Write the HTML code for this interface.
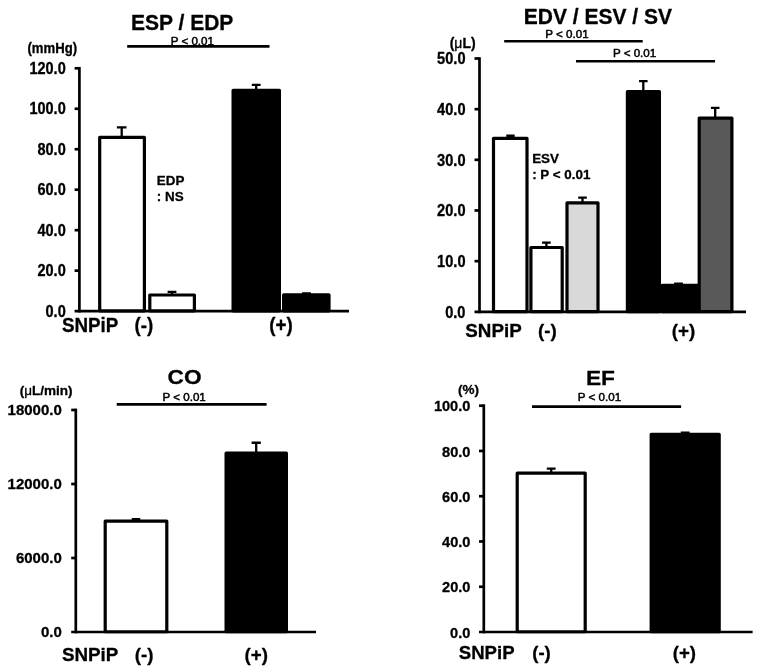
<!DOCTYPE html>
<html lang="en">
<head>
<meta charset="utf-8">
<title>Hemodynamic parameters with and without SNPiP</title>
<style>
html,body{margin:0;padding:0;background:#fff;}
body{width:759px;height:668px;overflow:hidden;}
svg{display:block;filter:blur(0.55px);}
text{font-family:"Liberation Sans",Arial,Helvetica,sans-serif;fill:#000;stroke:#000;stroke-width:0.3px;stroke-linejoin:round;}
.b{font-weight:700;}
.r{font-weight:400;stroke-width:0.5px;}
.mu{font-weight:400;}
</style>
</head>
<body>
<svg width="759" height="668" viewBox="0 0 759 668">
<rect x="0" y="0" width="759" height="668" fill="#fff"/>
<g id="panel-esp-edp">
<path d="M79.40 66.95V312.45" stroke="#000" stroke-width="2.7" stroke-linejoin="round" fill="none"/>
<path d="M74.60 311.10H349.00" stroke="#000" stroke-width="2.7" fill="none"/>
<path d="M74.60 68.30H79.40" stroke="#000" stroke-width="2.7" fill="none"/>
<text transform="translate(65.70 74.01) scale(1 1.08)" font-size="14.5" class="b" text-anchor="end">120.0</text>
<path d="M74.60 108.77H79.40" stroke="#000" stroke-width="2.7" fill="none"/>
<text transform="translate(65.70 114.47) scale(1 1.08)" font-size="14.5" class="b" text-anchor="end">100.0</text>
<path d="M74.60 149.23H79.40" stroke="#000" stroke-width="2.7" fill="none"/>
<text transform="translate(65.70 154.94) scale(1 1.08)" font-size="14.5" class="b" text-anchor="end">80.0</text>
<path d="M74.60 189.70H79.40" stroke="#000" stroke-width="2.7" fill="none"/>
<text transform="translate(65.70 195.41) scale(1 1.08)" font-size="14.5" class="b" text-anchor="end">60.0</text>
<path d="M74.60 230.17H79.40" stroke="#000" stroke-width="2.7" fill="none"/>
<text transform="translate(65.70 235.87) scale(1 1.08)" font-size="14.5" class="b" text-anchor="end">40.0</text>
<path d="M74.60 270.63H79.40" stroke="#000" stroke-width="2.7" fill="none"/>
<text transform="translate(65.70 276.34) scale(1 1.08)" font-size="14.5" class="b" text-anchor="end">20.0</text>
<text transform="translate(65.70 316.81) scale(1 1.08)" font-size="14.5" class="b" text-anchor="end">0.0</text>
<rect x="99.70" y="137.30" width="44.70" height="173.55" fill="#fff" stroke="#000" stroke-width="3.2" stroke-linejoin="round"/>
<path d="M116.90 127.35H126.50M121.70 127.35V136.70" fill="none" stroke="#000" stroke-width="2.3"/>
<rect x="149.80" y="295.00" width="44.60" height="15.85" fill="#fff" stroke="#000" stroke-width="3.2" stroke-linejoin="round"/>
<path d="M167.60 291.95H176.40M172.00 291.95V294.40" fill="none" stroke="#000" stroke-width="2.3"/>
<rect x="233.10" y="90.30" width="46.30" height="220.55" fill="#000" stroke="#000" stroke-width="3.2" stroke-linejoin="round"/>
<path d="M251.80 84.95H260.60M256.20 84.95V89.70" fill="none" stroke="#000" stroke-width="2.3"/>
<rect x="283.60" y="294.90" width="45.40" height="15.95" fill="#000" stroke="#000" stroke-width="3.2" stroke-linejoin="round"/>
<path d="M302.10 293.35H310.90M306.50 293.35V294.30" fill="none" stroke="#000" stroke-width="2.3"/>
<text transform="translate(131.00 30.20) scale(1 1.065)" font-size="21.0" class="b">ESP / EDP</text>
<text x="170.70" y="45.00" font-size="11.6" class="r">P &lt; 0.01</text>
<path d="M127.20 46.40H269.50" stroke="#000" stroke-width="2.6" fill="none"/>
<text transform="translate(27.50 53.30) scale(1 1.08)" font-size="13.15" class="b">(mmHg)</text>
<text x="156.80" y="184.80" font-size="13.4" class="b">EDP</text>
<text x="156.80" y="201.40" font-size="13.4" class="b">: NS</text>
<text transform="translate(61.90 332.00) scale(1 1.04)" font-size="18.8" class="b">SNPiP</text>
<text transform="translate(134.50 332.00) scale(1 1.04)" font-size="18.8" class="b">(-)</text>
<text transform="translate(269.20 332.00) scale(1 1.04)" font-size="18.8" class="b">(+)</text>
</g>
<g id="panel-edv-esv-sv">
<path d="M479.50 57.15V313.15" stroke="#000" stroke-width="2.7" stroke-linejoin="round" fill="none"/>
<path d="M474.50 311.80H746.00" stroke="#000" stroke-width="2.7" fill="none"/>
<path d="M474.50 58.50H479.50" stroke="#000" stroke-width="2.7" fill="none"/>
<text transform="translate(465.50 64.30) scale(1 1.09)" font-size="14.6" class="b" text-anchor="end">50.0</text>
<path d="M474.50 109.16H479.50" stroke="#000" stroke-width="2.7" fill="none"/>
<text transform="translate(465.50 114.96) scale(1 1.09)" font-size="14.6" class="b" text-anchor="end">40.0</text>
<path d="M474.50 159.82H479.50" stroke="#000" stroke-width="2.7" fill="none"/>
<text transform="translate(465.50 165.62) scale(1 1.09)" font-size="14.6" class="b" text-anchor="end">30.0</text>
<path d="M474.50 210.48H479.50" stroke="#000" stroke-width="2.7" fill="none"/>
<text transform="translate(465.50 216.28) scale(1 1.09)" font-size="14.6" class="b" text-anchor="end">20.0</text>
<path d="M474.50 261.14H479.50" stroke="#000" stroke-width="2.7" fill="none"/>
<text transform="translate(465.50 266.94) scale(1 1.09)" font-size="14.6" class="b" text-anchor="end">10.0</text>
<text transform="translate(465.50 317.60) scale(1 1.09)" font-size="14.6" class="b" text-anchor="end">0.0</text>
<rect x="493.50" y="138.30" width="33.50" height="173.25" fill="#fff" stroke="#000" stroke-width="3.2" stroke-linejoin="round"/>
<path d="M506.30 135.75H514.70M510.50 135.75V137.70" fill="none" stroke="#000" stroke-width="2.3"/>
<rect x="530.90" y="247.50" width="31.30" height="64.05" fill="#fff" stroke="#000" stroke-width="3.2" stroke-linejoin="round"/>
<path d="M542.10 242.55H550.70M546.40 242.55V246.90" fill="none" stroke="#000" stroke-width="2.3"/>
<rect x="567.00" y="202.90" width="31.00" height="108.65" fill="#d9d9d9" stroke="#000" stroke-width="3.2" stroke-linejoin="round"/>
<path d="M578.20 197.65H586.80M582.50 197.65V202.30" fill="none" stroke="#000" stroke-width="2.3"/>
<rect x="627.40" y="91.70" width="32.00" height="219.85" fill="#000" stroke="#000" stroke-width="3.2" stroke-linejoin="round"/>
<path d="M639.00 81.15H647.60M643.30 81.15V91.10" fill="none" stroke="#000" stroke-width="2.3"/>
<rect x="662.10" y="285.40" width="36.30" height="26.15" fill="#000" stroke="#000" stroke-width="3.2" stroke-linejoin="round"/>
<path d="M674.10 283.75H682.90M678.50 283.75V284.80" fill="none" stroke="#000" stroke-width="2.3"/>
<rect x="699.20" y="118.10" width="32.70" height="193.45" fill="#595959" stroke="#000" stroke-width="3.2" stroke-linejoin="round"/>
<path d="M710.90 107.85H719.50M715.20 107.85V117.50" fill="none" stroke="#000" stroke-width="2.3"/>
<text transform="translate(523.80 24.20) scale(1 1.065)" font-size="21.0" class="b">EDV / ESV / SV</text>
<text x="545.30" y="37.70" font-size="11.6" class="r">P &lt; 0.01</text>
<path d="M504.20 41.30H642.70" stroke="#000" stroke-width="2.6" fill="none"/>
<text x="612.90" y="57.30" font-size="11.6" class="r">P &lt; 0.01</text>
<path d="M576.00 61.30H715.00" stroke="#000" stroke-width="2.6" fill="none"/>
<text x="449.70" y="48.20" font-size="14" class="b">(<tspan class="mu">&#956;</tspan>L)</text>
<text x="532.20" y="162.70" font-size="13.4" class="b">ESV</text>
<text x="532.20" y="179.30" font-size="13.4" class="b">: P &lt; 0.01</text>
<text transform="translate(465.30 337.20) scale(1 0.98)" font-size="18.8" class="b">SNPiP</text>
<text transform="translate(538.00 337.20) scale(1 0.98)" font-size="18.8" class="b">(-)</text>
<text transform="translate(671.70 337.20) scale(1 0.98)" font-size="18.8" class="b">(+)</text>
</g>
<g id="panel-co">
<path d="M75.80 408.65V633.35" stroke="#000" stroke-width="2.7" stroke-linejoin="round" fill="none"/>
<path d="M71.20 632.00H316.00" stroke="#000" stroke-width="2.7" fill="none"/>
<path d="M71.20 410.00H75.80" stroke="#000" stroke-width="2.7" fill="none"/>
<text transform="translate(61.80 415.36) scale(1 0.98)" font-size="15.0" class="b" text-anchor="end">18000.0</text>
<path d="M71.20 484.00H75.80" stroke="#000" stroke-width="2.7" fill="none"/>
<text transform="translate(61.80 489.36) scale(1 0.98)" font-size="15.0" class="b" text-anchor="end">12000.0</text>
<path d="M71.20 558.00H75.80" stroke="#000" stroke-width="2.7" fill="none"/>
<text transform="translate(61.80 563.36) scale(1 0.98)" font-size="15.0" class="b" text-anchor="end">6000.0</text>
<text transform="translate(61.80 637.36) scale(1 0.98)" font-size="15.0" class="b" text-anchor="end">0.0</text>
<rect x="105.20" y="521.20" width="61.60" height="110.55" fill="#fff" stroke="#000" stroke-width="3.2" stroke-linejoin="round"/>
<path d="M131.70 519.15H140.30M136.00 519.15V520.60" fill="none" stroke="#000" stroke-width="2.3"/>
<rect x="226.10" y="453.20" width="60.30" height="178.55" fill="#000" stroke="#000" stroke-width="3.2" stroke-linejoin="round"/>
<path d="M251.60 442.75H260.80M256.20 442.75V452.60" fill="none" stroke="#000" stroke-width="2.3"/>
<text transform="translate(167.50 384.30) scale(1 0.92)" font-size="22.7" class="b">CO</text>
<text x="162.50" y="400.80" font-size="11.6" class="r">P &lt; 0.01</text>
<path d="M116.70 404.40H266.60" stroke="#000" stroke-width="2.6" fill="none"/>
<text x="19.70" y="395.10" font-size="13.5" class="b">(<tspan class="mu">&#956;</tspan>L/min)</text>
<text transform="translate(62.00 661.40) scale(1 1.02)" font-size="18.8" class="b">SNPiP</text>
<text transform="translate(134.70 661.40) scale(1 1.02)" font-size="18.8" class="b">(-)</text>
<text transform="translate(244.50 661.40) scale(1 1.02)" font-size="18.8" class="b">(+)</text>
</g>
<g id="panel-ef">
<path d="M483.80 404.35V633.35" stroke="#000" stroke-width="2.7" stroke-linejoin="round" fill="none"/>
<path d="M479.00 632.00H752.60" stroke="#000" stroke-width="2.7" fill="none"/>
<path d="M479.00 405.70H483.80" stroke="#000" stroke-width="2.7" fill="none"/>
<text transform="translate(470.40 411.24) scale(1 1.04)" font-size="14.6" class="b" text-anchor="end">100.0</text>
<path d="M479.00 450.96H483.80" stroke="#000" stroke-width="2.7" fill="none"/>
<text transform="translate(470.40 456.50) scale(1 1.04)" font-size="14.6" class="b" text-anchor="end">80.0</text>
<path d="M479.00 496.22H483.80" stroke="#000" stroke-width="2.7" fill="none"/>
<text transform="translate(470.40 501.76) scale(1 1.04)" font-size="14.6" class="b" text-anchor="end">60.0</text>
<path d="M479.00 541.48H483.80" stroke="#000" stroke-width="2.7" fill="none"/>
<text transform="translate(470.40 547.02) scale(1 1.04)" font-size="14.6" class="b" text-anchor="end">40.0</text>
<path d="M479.00 586.74H483.80" stroke="#000" stroke-width="2.7" fill="none"/>
<text transform="translate(470.40 592.28) scale(1 1.04)" font-size="14.6" class="b" text-anchor="end">20.0</text>
<text transform="translate(470.40 637.54) scale(1 1.04)" font-size="14.6" class="b" text-anchor="end">0.0</text>
<rect x="517.20" y="473.20" width="68.00" height="158.55" fill="#fff" stroke="#000" stroke-width="3.2" stroke-linejoin="round"/>
<path d="M546.80 468.65H555.60M551.20 468.65V472.60" fill="none" stroke="#000" stroke-width="2.3"/>
<rect x="651.20" y="434.30" width="68.00" height="197.45" fill="#000" stroke="#000" stroke-width="3.2" stroke-linejoin="round"/>
<path d="M680.80 432.65H689.60M685.20 432.65V433.70" fill="none" stroke="#000" stroke-width="2.3"/>
<text transform="translate(585.90 385.00) scale(1 0.92)" font-size="22.7" class="b">EF</text>
<text x="577.80" y="401.40" font-size="11.6" class="r">P &lt; 0.01</text>
<path d="M532.00 406.60H681.10" stroke="#000" stroke-width="2.6" fill="none"/>
<text x="457.90" y="394.10" font-size="13.5" class="b">(%)</text>
<text transform="translate(458.80 659.00) scale(1 1.02)" font-size="18.6" class="b">SNPiP</text>
<text transform="translate(532.20 659.00) scale(1 1.02)" font-size="18.6" class="b">(-)</text>
<text transform="translate(672.80 659.00) scale(1 1.02)" font-size="18.6" class="b">(+)</text>
</g>
</svg>
</body>
</html>
